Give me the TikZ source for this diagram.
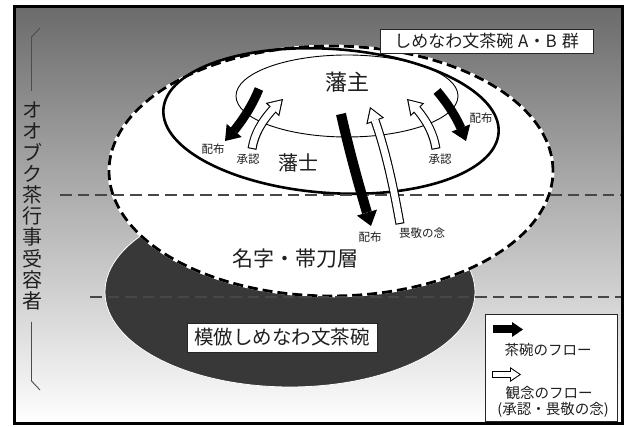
\documentclass[tikz,border=0pt]{standalone}
\usepackage{fontspec}
\newfontfamily\jp{Noto Sans CJK JP}
\usetikzlibrary{arrows.meta,bending}
\tikzset{
  txt/.style={font=\jp, text=black!88, inner sep=0pt},
  lbl/.style={txt, font=\jp\fontsize{21}{21}\selectfont},
  small/.style={txt, font=\jp\fontsize{11.5}{11.5}\selectfont},
  boxed/.style={txt, draw=black!85, fill=white, line width=0.8pt},
  hdash/.style={draw=black!72, line width=1.2pt, dash pattern=on 11.5pt off 6pt},
  blk/.style={draw=black, line width=9pt, -{Triangle[length=14pt,width=20pt,line width=0pt]}},
  blkc/.style={draw=black, line width=10pt, -{Triangle[length=14pt,width=21pt,line width=0pt]}},
  wout/.style={draw=black, line width=9pt, -{Triangle[length=15pt,width=19pt,line width=0pt]}},
  win/.style={draw=white, line width=6.8pt, shorten >=2.06pt, shorten <=1.1pt, -{Triangle[length=11.84pt,width=15pt,line width=0pt]}},
  lblk/.style={draw=black, line width=8pt, -{Triangle[length=11pt,width=15pt,line width=0pt]}},
  lwout/.style={draw=black, line width=7.5pt, -{Triangle[length=11pt,width=15pt,line width=0pt]}},
  lwin/.style={draw=white, line width=5.5pt, shorten >=1.78pt, shorten <=1pt, -{Triangle[length=8.22pt,width=11.2pt,line width=0pt]}},
}
\begin{document}
\begin{tikzpicture}[x=1pt,y=-1pt]
\useasboundingbox (0,0) rectangle (627,427);
\fill[white] (0,0) rectangle (627,427);
% background gradient inside the frame
\shade[top color=black!58, bottom color=white] (14,7) rectangle (622,424);

% dark ellipse (imitation bowls)
\fill[black!78] (290,292) ellipse [x radius=185pt, y radius=95pt];
\draw[white, line width=0.8pt] (290,292) ellipse [x radius=185pt, y radius=95pt];

% white dashed ellipse
\fill[white] (331,171) ellipse [x radius=222pt, y radius=125pt];
\draw[white, line width=2.8pt] (331,171) ellipse [x radius=222pt, y radius=125pt];
\draw[black, line width=2.8pt, dash pattern=on 10pt off 5pt] (331,171) ellipse [x radius=222pt, y radius=125pt];

% thick ellipse (hanshi) and thin ellipse (hanshu)
\draw[black, line width=2.6pt, rotate around={-4:(331,121)}] (331,121) ellipse [x radius=168pt, y radius=72pt];
\draw[black, line width=0.9pt] (347,96) ellipse [x radius=111pt, y radius=41pt];

% horizontal dashed lines
\coordinate (h1a) at (60,195);
\coordinate (h1b) at (621,195);
\coordinate (h2a) at (90,297);
\coordinate (h2b) at (621,297);
\draw[hdash] (h1a) -- (h1b);
\draw[hdash] (h2a) -- (h2b);

% frame
\draw[black, line width=3pt] (14,7) rectangle (622,424);

% labels
\node[lbl, font=\jp\fontsize{22}{22}\selectfont] (hanshu) at (347,82) {藩主};
\node[lbl, font=\jp\fontsize{20}{20}\selectfont] (hanshi) at (298,163) {藩士};
\node[lbl] (myoji) at (295,259) {名字・帯刀層};
\node[boxed, minimum width=213pt, minimum height=24pt, font=\jp\fontsize{17}{17}\selectfont] (abox) at (486.5,41) {しめなわ文茶碗\hspace{5pt}A・B\hspace{5pt}群};
\node[boxed, minimum width=190pt, minimum height=29pt, font=\jp\fontsize{19.5}{19.5}\selectfont] (mbox) at (282,337.5) {模倣しめなわ文茶碗};

% vertical label and its brackets
\node[txt, font=\jp\fontsize{20}{21.2}\selectfont, align=center] (vert) at (32,206) {オ\\オ\\ブ\\ク\\茶\\行\\事\\受\\容\\者};
\coordinate (bt1) at (40,28);
\coordinate (bt2) at (31.5,37);
\coordinate (bt3) at (31.5,91);
\coordinate (bb1) at (31.5,322);
\coordinate (bb2) at (31.5,381);
\coordinate (bb3) at (40,390);
\draw[black!70, line width=0.9pt] (bt1) -- (bt2) -- (bt3);
\draw[black!70, line width=0.9pt] (bb1) -- (bb2) -- (bb3);

% flow arrows
\coordinate (lbs) at (259,89);  \coordinate (lbe) at (225,141);
\coordinate (lws) at (252,149); \coordinate (lwe) at (283,99);
\coordinate (rws) at (436,149); \coordinate (rwe) at (407,99);
\coordinate (rbs) at (437,91);  \coordinate (rbe) at (466,141);
\coordinate (cbs) at (341,114); \coordinate (cbe) at (371,226);
\coordinate (cws) at (400,224); \coordinate (cwe) at (370,107);

\draw[blk] (lbs) .. controls (252,106) and (241,124) .. (lbe);
\draw[wout] (lws) .. controls (255,130) and (266,115) .. (lwe);
\draw[win] (lws) .. controls (255,130) and (266,115) .. (lwe);
\draw[wout] (rws) .. controls (433,130) and (423,114) .. (rwe);
\draw[win] (rws) .. controls (433,130) and (423,114) .. (rwe);
\draw[blk] (rbs) .. controls (448,104) and (459,120) .. (rbe);
\draw[wout] (cws) .. controls (393,185) and (385,145) .. (cwe);
\draw[win] (cws) .. controls (393,185) and (385,145) .. (cwe);
\draw[blkc] (cbs) .. controls (349,150) and (360,190) .. (cbe);

\node[small] (hl) at (213,149) {配布};
\node[small] (sl) at (248,159) {承認};
\node[small] (sr) at (440,159) {承認};
\node[small] (hr) at (481,118) {配布};
\node[small] (hc) at (370,237) {配布};
\node[small] (ik) at (422,233) {畏敬の念};

% legend
\node[boxed, minimum width=132pt, minimum height=107pt] (legend) at (551,367.5) {};
\coordinate (lg1s) at (493,329.5); \coordinate (lg1e) at (523,329.5);
\coordinate (lg2s) at (492,374.5); \coordinate (lg2e) at (521,374.5);
\draw[lblk] (lg1s) -- (lg1e);
\draw[lwout] (lg2s) -- (lg2e);
\draw[lwin] (lg2s) -- (lg2e);
\node[txt, font=\jp\fontsize{14.5}{14.5}\selectfont] (lgt1) at (548,350) {茶碗のフロー};
\node[txt, font=\jp\fontsize{14.5}{14.5}\selectfont] (lgt2) at (549,393) {観念のフロー};
\node[txt, font=\jp\fontsize{14.5}{14.5}\selectfont] (lgt3) at (553,410) {(承認・畏敬の念)};
\end{tikzpicture}
\end{document}
